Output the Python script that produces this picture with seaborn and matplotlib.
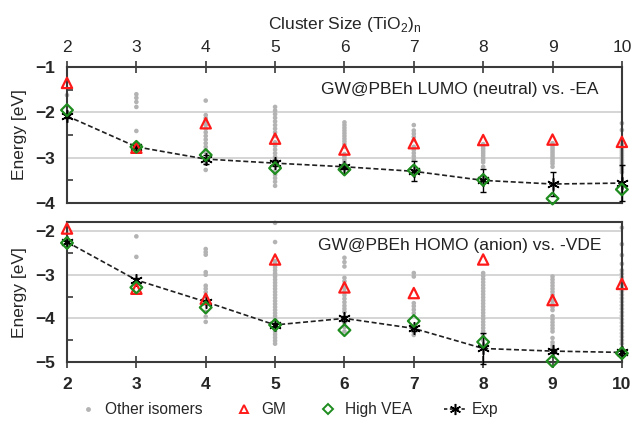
import pandas as pd
import matplotlib.pyplot as plt
import seaborn as sns
from matplotlib.lines import Line2D
from matplotlib.ticker import MultipleLocator

# cluster sizes n of (TiO2)n
sizes = [2, 3, 4, 5, 6, 7, 8, 9, 10]

# top panel: GW@PBEh LUMO (neutral) vs. -EA
ea_gm = [-1.35, -2.78, -2.24, -2.58, -2.82, -2.68, -2.61, -2.60, -2.65]
ea_vea = [-1.95, -2.76, -2.94, -3.23, -3.26, -3.28, -3.49, -3.90, -3.70]
ea_exp = [-2.08, -2.76, -3.03, -3.12, -3.20, -3.30, -3.50, -3.58, -3.56]
ea_err = [0.05, 0.08, 0.10, 0.06, 0.06, 0.22, 0.25, 0.27, 0.40]
ea_iso = {
    2: [-1.62],
    3: [-1.60, -1.68, -1.77, -1.88, -2.41],
    4: [-1.74, -2.06, -2.13, -2.20, -2.28, -2.36, -2.44, -2.52, -2.60,
        -2.68, -2.76, -2.83, -2.88, -3.13, -3.27],
    5: [-1.88, -1.96, -2.04, -2.12, -2.20, -2.28, -2.36, -2.44, -2.52,
        -2.66, -2.74, -2.82, -2.90, -2.98, -3.05, -3.30, -3.38, -3.45,
        -3.53, -3.62],
    6: [-2.22, -2.28, -2.34, -2.40, -2.46, -2.52, -2.58, -2.64, -2.70,
        -2.76, -2.92, -2.98, -3.04, -3.10, -3.15],
    7: [-2.28, -2.40, -2.47, -2.54, -2.61, -2.76, -2.83, -2.90, -2.97,
        -3.04],
    8: [-2.70, -2.75, -2.80, -2.85, -2.90, -2.95, -3.00, -3.05, -3.10,
        -3.20],
    9: [-2.68, -2.73, -2.78, -2.83, -2.88, -2.93, -2.98, -3.03, -3.08,
        -3.13, -3.20],
    10: [-2.24, -2.39, -2.70, -2.75, -2.80, -2.85, -2.90, -2.95, -3.00,
         -3.05, -3.10, -3.15, -3.20, -3.26, -3.32],
}

# bottom panel: GW@PBEh HOMO (anion) vs. -VDE
vde_gm = [-1.94, -3.32, -3.55, -2.65, -3.29, -3.42, -2.65, -3.58, -3.21]
vde_vea = [-2.27, -3.29, -3.75, -4.15, -4.27, -4.06, -4.54, -4.98, -4.80]
vde_exp = [-2.25, -3.12, -3.62, -4.15, -4.00, -4.23, -4.69, -4.75, -4.78]
vde_err = [0.03, 0.04, 0.05, 0.05, 0.05, 0.05, 0.35, 0.05, 0.05]
vde_iso = {
    3: [-2.12, -2.59],
    4: [-2.41, -2.48, -2.54, -2.94, -3.00, -3.25, -3.32, -3.40, -3.48,
        -3.85, -3.96, -4.08],
    5: [-1.81, -2.25, -2.69, -2.76, -2.83, -2.90, -2.97, -3.04, -3.11,
        -3.18, -3.25, -3.32, -3.39, -3.46, -3.53, -3.60, -3.67, -3.74,
        -3.81, -3.88, -3.95, -4.02, -4.30, -4.37, -4.44, -4.51, -4.58],
    6: [-2.61, -2.71, -2.81, -3.07, -3.15, -3.23, -3.31, -3.39, -3.47,
        -3.55, -3.63, -3.71, -3.78, -3.85, -4.10, -4.20, -4.30],
    7: [-2.96, -3.04, -3.65, -3.72, -3.80, -3.88, -4.31, -4.38],
    8: [-2.96, -3.03, -3.10, -3.17, -3.24, -3.31, -3.38, -3.45, -3.52,
        -3.59, -3.66, -3.73, -3.80, -3.87, -3.94, -4.01, -4.08, -4.15,
        -4.22, -4.29, -4.36, -4.43, -4.50],
    9: [-3.04, -3.11, -3.18, -3.25, -3.32, -3.39, -3.46, -3.53, -3.60,
        -3.67, -3.74, -3.81, -3.95, -4.02, -4.09, -4.16, -4.23, -4.30,
        -4.45, -4.55, -4.62, -4.69],
    10: [-1.92, -2.30, -2.55, -2.75, -2.90, -2.98, -3.06, -3.14, -3.22,
         -3.30, -3.38, -3.46, -3.54, -3.62, -3.70, -3.78, -3.86, -3.94,
         -4.02, -4.10, -4.18, -4.26, -4.34, -4.42, -4.50, -4.58, -4.69],
}

GRAY = "#b3b3b3"
RED = "#ff1a1a"
GREEN = "#1e8c1e"
SPINE = "#3a3a3a"
STAR = (6, 2, 0)

sns.set_theme(style="white")
plt.rcParams["font.family"] = ["Liberation Sans", "DejaVu Sans"]


def draw_panel(ax, iso, gm, vea, exp, err, label, ylim):
    iso_df = pd.DataFrame([(n, e) for n, vals in iso.items() for e in vals],
                          columns=["n", "E"])
    sns.scatterplot(data=iso_df, x="n", y="E", ax=ax, color=GRAY, s=11,
                    edgecolor="none", clip_on=False, zorder=2, legend=False)
    ax.errorbar(sizes, exp, yerr=err, fmt="none", ecolor="black",
                elinewidth=1.0, capsize=2.5, capthick=1.0, zorder=3,
                clip_on=False)
    sns.lineplot(x=sizes, y=exp, ax=ax, color="#202020", lw=1.2,
                 dashes=(3, 1.6), marker=STAR, markersize=9,
                 markeredgecolor="black", markeredgewidth=1.1, zorder=4,
                 clip_on=False, legend=False)
    sns.scatterplot(x=sizes, y=gm, ax=ax, marker="^", s=55,
                    facecolor="none", edgecolor=RED, linewidth=1.6,
                    zorder=5, clip_on=False, legend=False)
    sns.scatterplot(x=sizes, y=vea, ax=ax, marker="D", s=36,
                    facecolor="none", edgecolor=GREEN, linewidth=1.6,
                    zorder=6, clip_on=False, legend=False)

    ax.set_xlim(2, 10)
    ax.set_ylim(*ylim)
    ax.set_xticks(sizes)
    ax.yaxis.set_major_locator(MultipleLocator(1))
    ax.yaxis.set_minor_locator(MultipleLocator(0.5))
    ax.grid(axis="y", which="major", color="#d2d2d2", lw=1.3)
    ax.set_axisbelow(True)
    for sp in ax.spines.values():
        sp.set_visible(True)
        sp.set_color(SPINE)
        sp.set_linewidth(1.5)
    ax.tick_params(axis="both", which="major", direction="inout", length=9,
                   width=1.2, color=SPINE, labelsize=12.5, pad=4)
    ax.tick_params(axis="y", which="minor", direction="in", length=4,
                   width=1.2, color=SPINE, left=True)
    for t in ax.get_xticklabels() + ax.get_yticklabels():
        t.set_fontweight("bold")
    ax.set_ylabel("Energy [eV]", fontsize=12.5, labelpad=4)
    ax.text(0.708, 0.835, label, transform=ax.transAxes, ha="center",
            va="center", fontsize=12.5, color="#222222")


fig = plt.figure(figsize=(6.32, 4.23), dpi=100)
ax1 = fig.add_axes([0.106, 0.520, 0.878, 0.3215])
ax2 = fig.add_axes([0.106, 0.1442, 0.878, 0.330])

draw_panel(ax1, ea_iso, ea_gm, ea_vea, ea_exp, ea_err,
           "GW@PBEh LUMO (neutral) vs. -EA", (-4, -1))
draw_panel(ax2, vde_iso, vde_gm, vde_vea, vde_exp, vde_err,
           "GW@PBEh HOMO (anion) vs. -VDE", (-5, -1.8))

ax1.xaxis.set_ticks_position("top")
ax1.xaxis.set_label_position("top")
ax1.tick_params(axis="x", bottom=False, top=True, labelbottom=False,
                labeltop=True)
ax1.set_xlabel("Cluster Size (TiO$_\\mathregular{2}$)$_\\mathregular{n}$",
               fontsize=12.5, labelpad=8)
ax1.yaxis.set_label_coords(-0.072, 0.5)
ax2.tick_params(axis="x", bottom=True, top=False, pad=6)
ax2.set_xlabel("")
ax2.yaxis.set_label_coords(-0.072, 0.5)
ax2.set_yticks([-5, -4, -3, -2])

handles = [
    Line2D([], [], ls="none", marker="o", markersize=3.5, color=GRAY,
           markeredgecolor="none"),
    Line2D([], [], ls="none", marker="^", markersize=6, mfc="none",
           mec=RED, mew=1.4),
    Line2D([], [], ls="none", marker="D", markersize=5, mfc="none",
           mec=GREEN, mew=1.4),
    Line2D([], [], color="#202020", lw=1.2, dashes=(2, 1.5), marker=STAR,
           markersize=8, mec="black", mew=1.1),
]
fig.legend(handles, ["Other isomers", "GM", "High VEA", "Exp"],
           loc="lower center", bbox_to_anchor=(0.455, -0.02), ncol=4,
           frameon=False, fontsize=11.2, handlelength=1.4, handletextpad=0.4,
           columnspacing=2.0)

fig.savefig("out.png", dpi=100)
